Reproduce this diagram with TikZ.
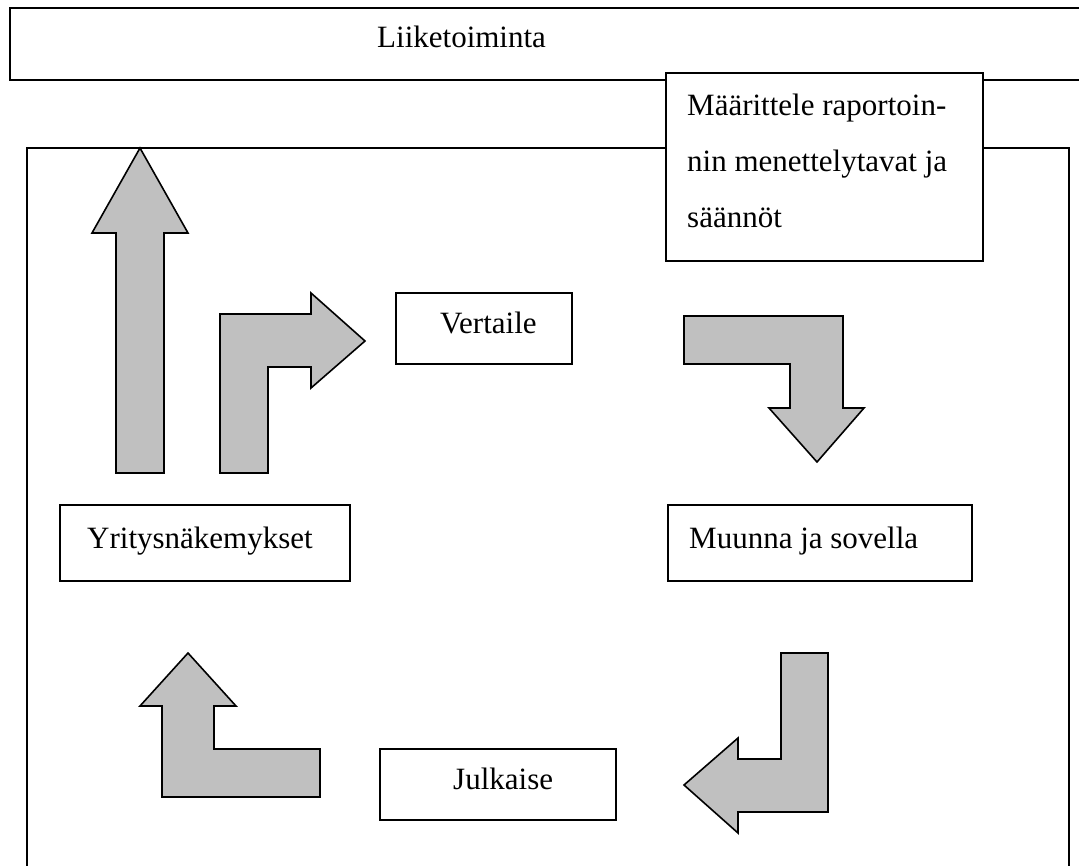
\documentclass[tikz,border=0pt]{standalone}
\usepackage{fontspec}
\setmainfont{Liberation Serif}
\begin{document}
\begin{tikzpicture}[x=1pt,y=-1pt,
  frame/.style={draw=black,line width=2pt},
  box/.style={frame,fill=white,inner sep=0pt,rectangle},
  label/.style={inner sep=0pt,anchor=base west,font=\fontsize{31}{56}\selectfont},
  blockarrow/.style={draw=black,line width=1.6pt,fill=arrowgray,line join=miter}]
\definecolor{arrowgray}{HTML}{C0C0C0}
\useasboundingbox (0,0) rectangle (1079,865);
\clip (0,0) rectangle (1079,865);

% outer business frame and inner process frame
\node[box,minimum width=1080pt,minimum height=72pt] (business) at (550,44) {};
\node[label] (businesstext) at (377,47) {Liiketoiminta};
\draw[frame] (27,875) -- (27,148) -- (1069,148) -- (1069,875);

% reporting rules box
\node[box,minimum width=317pt,minimum height=188pt] (rules) at (824.5,167) {};
\node[label,anchor=north west,align=left] (rulestext) at (687,94)
  {Määrittele raportoin-\\nin menettelytavat ja\\säännöt};

% process step boxes
\node[box,minimum width=176pt,minimum height=71pt] (compare) at (484,328.5) {};
\node[label] (comparetext) at (440,333) {Vertaile};
\node[box,minimum width=290pt,minimum height=76pt] (insight) at (205,543) {};
\node[label] (insighttext) at (87,548) {Yritysnäkemykset};
\node[box,minimum width=304pt,minimum height=76pt] (transform) at (820,543) {};
\node[label] (transformtext) at (689,548) {Muunna ja sovella};
\node[box,minimum width=236pt,minimum height=71pt] (publish) at (498,784.5) {};
\node[label] (publishtext) at (453,789) {Julkaise};

% block arrows of the cycle
\draw[blockarrow] (140,148) -- (188,233) -- (164,233) -- (164,473) -- (116,473)
  -- (116,233) -- (92,233) -- cycle;
\draw[blockarrow] (220,473) -- (220,314) -- (311,314) -- (311,293) -- (365,341)
  -- (311,388) -- (311,367) -- (268,367) -- (268,473) -- cycle;
\draw[blockarrow] (684,316) -- (843,316) -- (843,408) -- (864,408) -- (817,462)
  -- (769,408) -- (790,408) -- (790,364) -- (684,364) -- cycle;
\draw[blockarrow] (781,653) -- (828,653) -- (828,812) -- (738,812) -- (738,833)
  -- (684,785) -- (738,738) -- (738,759) -- (781,759) -- cycle;
\draw[blockarrow] (188,653) -- (236,706) -- (214,706) -- (214,749) -- (320,749)
  -- (320,797) -- (162,797) -- (162,706) -- (140,706) -- cycle;
\end{tikzpicture}
\end{document}
